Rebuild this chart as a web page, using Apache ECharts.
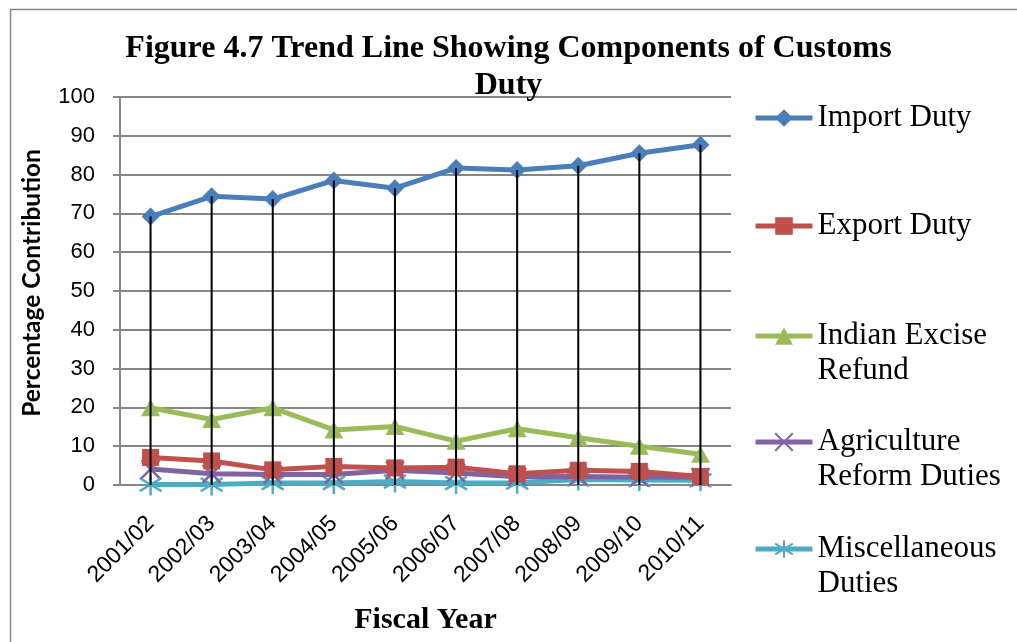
<!DOCTYPE html>
<html>
<head>
<meta charset="utf-8">
<script src="https://cdn.jsdelivr.net/npm/echarts@6/dist/echarts.min.js"></script>
<style>
  html, body { margin: 0; padding: 0; background: #fff; }
  #chart { width: 1017px; height: 642px; }
</style>
</head>
<body>
<div id="chart"></div>
<script>
// Fiscal years on the category axis
const years = ['2001/02', '2002/03', '2003/04', '2004/05', '2005/06',
               '2006/07', '2007/08', '2008/09', '2009/10', '2010/11'];

// Share of total customs duty (%) per component
const importDuty      = [69.2, 74.4, 73.7, 78.5, 76.5, 81.7, 81.2, 82.3, 85.5, 87.7];
const exportDuty      = [7.1, 6.2, 3.9, 4.8, 4.4, 4.6, 2.9, 3.8, 3.5, 2.2];
const indianExcise    = [19.9, 16.9, 19.9, 14.2, 15.1, 11.3, 14.5, 12.2, 10.0, 7.9];
const agricultureDuty = [4.1, 2.9, 2.7, 2.7, 3.8, 3.1, 2.1, 2.2, 2.0, 2.0];
const miscDuty        = [0.1, 0.1, 0.5, 0.5, 0.9, 0.5, 0.6, 1.4, 1.3, 1.2];

const seriesNames = ['Import Duty', 'Export Duty', 'Indian Excise Refund',
                     'Agriculture Reform Duties', 'Miscellaneous Duties'];
const legendLines = [['Import Duty'], ['Export Duty'], ['Indian Excise', 'Refund'],
                     ['Agriculture', 'Reform Duties'], ['Miscellaneous', 'Duties']];
const yTicks = [0, 10, 20, 30, 40, 50, 60, 70, 80, 90, 100];

const colors = ['#4A7EBB', '#C0504D', '#9BBB59', '#8064A2', '#4BACC6'];
const symbols = [
  'diamond',
  'rect',
  'triangle',
  'path://M0,0L20,20M20,0L0,20',
  'path://M10,0L10,20M0,4L20,16M20,4L0,16'
];
const symbolSizes = [18, 17, [19, 17], 18, 22];
const values = [importDuty, exportDuty, indianExcise, agricultureDuty, miscDuty];

const chart = echarts.init(document.getElementById('chart'), null, { renderer: 'canvas' });

const lineSeries = seriesNames.map((name, i) => ({
  name: name,
  type: 'line',
  data: values[i],
  symbol: symbols[i],
  symbolSize: symbolSizes[i],
  showAllSymbol: true,
  lineStyle: { color: colors[i], width: 5 },
  itemStyle: { color: colors[i], borderColor: colors[i], borderWidth: i >= 3 ? 2.5 : 0 },
  z: 2 + (4 - i) * 0.1,
  animation: false
}));

// Drop lines from each Import Duty point down to the category axis
const dropLines = {
  name: 'drop',
  type: 'bar',
  data: importDuty,
  barWidth: 2,
  itemStyle: { color: '#000' },
  z: 5,
  silent: true,
  animation: false
};

// Legend entries stacked down the right side; the icon sits on the first text line
const legendIconY = [118, 226, 336, 442, 549];
const legends = seriesNames.map((name, i) => {
  const lines = legendLines[i];
  const label = lines.length > 1 ? ' \n' + lines.join('\n') : lines[0];
  const boxHalf = lines.length > 1 ? 52.5 : 17.5;
  return {
    data: [name],
    orient: 'vertical',
    left: 753,
    top: legendIconY[i] - boxHalf,
    padding: 0,
    itemWidth: 57,
    itemHeight: 22,
    formatter: () => label,
    selectedMode: false,
    lineStyle: { width: 5 },
    textStyle: {
      fontFamily: 'Liberation Serif',
      fontSize: 31,
      lineHeight: 35,
      color: '#000'
    }
  };
});

const option = {
  backgroundColor: '#fff',
  animation: false,
  title: {
    text: 'Figure 4.7 Trend Line Showing Components of Customs\nDuty',
    left: 'center',
    top: 30,
    padding: [0, 0, 0, 28],
    textStyle: {
      fontFamily: 'Liberation Serif',
      fontWeight: 'bold',
      fontSize: 32,
      lineHeight: 37,
      color: '#000',
      align: 'center'
    }
  },
  legend: legends,
  grid: { left: 120, right: 286, top: 97, bottom: 157, containLabel: false },
  xAxis: {
    type: 'category',
    data: years,
    boundaryGap: true,
    name: 'Fiscal Year',
    nameLocation: 'middle',
    nameGap: 120,
    nameTextStyle: {
      fontFamily: 'Liberation Serif',
      fontWeight: 'bold',
      fontSize: 30,
      color: '#000'
    },
    axisLine: { lineStyle: { color: '#868686', width: 2 } },
    axisTick: { show: false },
    axisLabel: {
      rotate: 45,
      margin: 35,
      fontFamily: 'Liberation Sans',
      fontSize: 23,
      color: '#000'
    }
  },
  yAxis: {
    type: 'value',
    min: yTicks[0],
    max: yTicks[yTicks.length - 1],
    interval: 10,
    name: 'Percentage Contribution',
    nameLocation: 'middle',
    nameGap: 75,
    nameTextStyle: {
      fontFamily: 'Lato',
      fontWeight: 'bold',
      fontSize: 24.5,
      color: '#000',
      padding: [0, 0, 0, 16]
    },
    axisLine: { show: true, lineStyle: { color: '#868686', width: 2 } },
    axisTick: { show: true, length: 7, lineStyle: { color: '#868686', width: 2 } },
    splitLine: { lineStyle: { color: '#868686', width: 2 } },
    axisLabel: {
      margin: 25,
      fontFamily: 'Liberation Sans',
      fontSize: 22,
      color: '#000'
    }
  },
  graphic: [{
    type: 'rect',
    left: 8,
    top: 7,
    silent: true,
    shape: { x: 0, y: 0, width: 1030, height: 660 },
    style: { fill: 'none', stroke: '#868686', lineWidth: 1.5 },
    z: -1
  }],
  series: lineSeries.concat([dropLines])
};

chart.setOption(option);
</script>
</body>
</html>
